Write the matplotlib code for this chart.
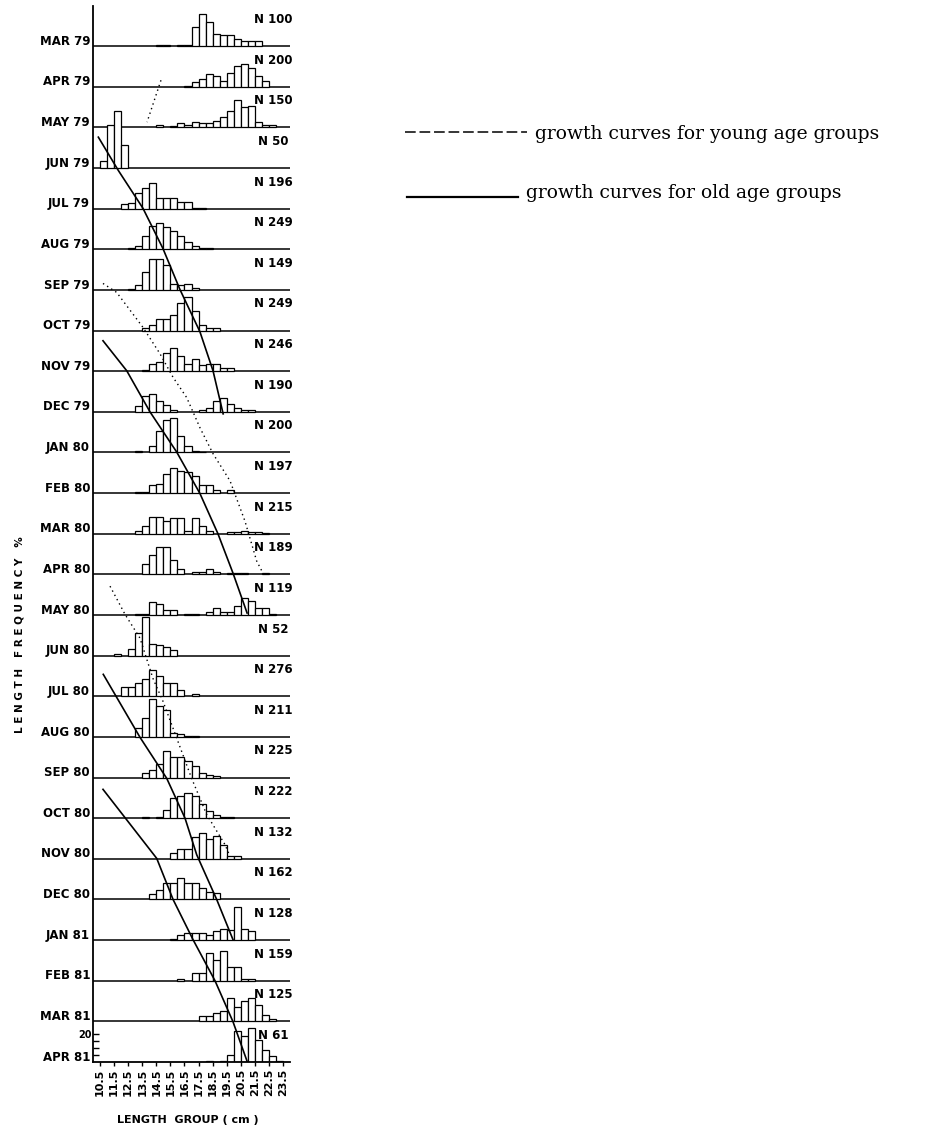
import numpy as np
import matplotlib
matplotlib.use('Agg')
import matplotlib.pyplot as plt
from matplotlib.lines import Line2D

# ---------------- data ----------------
months = ['MAR 79', 'APR 79', 'MAY 79', 'JUN 79', 'JUL 79', 'AUG 79', 'SEP 79',
          'OCT 79', 'NOV 79', 'DEC 79', 'JAN 80', 'FEB 80', 'MAR 80', 'APR 80',
          'MAY 80', 'JUN 80', 'JUL 80', 'AUG 80', 'SEP 80', 'OCT 80', 'NOV 80',
          'DEC 80', 'JAN 81', 'FEB 81', 'MAR 81', 'APR 81']
n_samples = [100, 200, 150, 50, 196, 249, 149, 249, 246, 190, 200, 197, 215,
             189, 119, 52, 276, 211, 225, 222, 132, 162, 128, 159, 125, 61]
# length (cm) of the first 0.5-cm length group listed for each month
bin_starts = [14.5, 16.5, 14.5, 10.5, 12.0, 12.5, 12.5, 13.5, 13.5, 13.0, 13.0,
              13.0, 13.0, 13.5, 13.0, 11.5, 12.0, 13.0, 13.5, 13.5, 15.5, 14.0,
              15.5, 16.0, 17.5, 18.0]
bin_width = 0.5

# length frequency (%) per 0.5 cm group
mar79 = [0.6, 0.6, 0, 0.6, 0.6, 14, 23, 17, 9, 8, 8, 5, 4, 3.5, 3.5]
apr79 = [0.6, 3.4, 5.7, 9, 7.6, 4, 10, 14.8, 16.6, 13.6, 8, 3.8]
may79 = [1.4, 0, 1, 2.9, 1.4, 4, 2.9, 2.9, 4.8, 7.6, 12, 19.5, 14.8, 15.5, 3.6, 1.7, 1.7]
jun79 = [5.2, 30.5, 41, 16.7]
jul79 = [3.1, 4.3, 11.4, 14.5, 18.6, 7.9, 7.4, 7.4, 4.8, 4.8, 0.7, 0.6]
aug79 = [0.7, 2.4, 9.5, 16.7, 19, 16, 13, 9.5, 5.2, 2.4, 0.7, 0.7]
sep79 = [1, 3.6, 12.9, 21.9, 21.9, 17.9, 4.5, 3.6, 4, 1.7]
oct79 = [1.9, 4.3, 8.3, 8.3, 11.4, 19.8, 23.8, 13.8, 4.3, 1.9, 1.9]
nov79 = [1, 5.2, 6.7, 13, 16.7, 10.7, 5.2, 9, 4.3, 4.8, 5.2, 2.4, 2.4]
dec79 = [4.3, 11.4, 12.6, 7.9, 4.8, 1.4, 0, 0, 0, 1.4, 3.1, 7.9, 10.2, 5.5, 2.4, 1, 1]
jan80 = [0.7, 0, 4.8, 15.5, 23.3, 24.5, 11.9, 4.8, 0.7, 0.6]
feb80 = [1, 1, 5.5, 6.7, 13.8, 17.9, 15.5, 15, 11.9, 5.5, 5.5, 1.9, 0, 2.4]
mar80 = [1.9, 5.5, 11.9, 11.9, 9, 11.4, 11.4, 1.9, 11.4, 5.5, 1.9, 0, 0, 1, 1, 2, 1.5, 1, 0.8]
apr80 = [7.6, 14, 19.5, 19.5, 10, 4, 0, 1.7, 1.7, 4, 1.7, 0, 1, 1, 1, 0, 0, 1]
may80 = [0.7, 0.7, 9.3, 7.6, 3.6, 3.6, 0, 1, 1, 0, 2.1, 4.8, 2.1, 2.1, 6.4, 12.4, 10, 5.2, 5.2, 1]
jun80 = [1.4, 0, 4.8, 16.2, 27.6, 8.3, 7.9, 6.2, 4.3]
jul80 = [6.4, 6.4, 9.5, 12.4, 18.6, 14.3, 9.5, 9.5, 4.8, 0, 1.7]
aug80 = [6.6, 13.8, 26.9, 22.1, 19, 3.1, 1.9, 0.7, 0.7]
sep80 = [3.3, 5.2, 10, 18.8, 14.8, 14.8, 11.7, 8.1, 2.9, 2.1, 1]
oct80 = [0.6, 0, 1.2, 6, 14.3, 16, 17.9, 15.5, 10, 5.2, 2.4, 1, 1]
nov80 = [4, 7.1, 7.1, 15.5, 18.3, 14.3, 16, 10.2, 2.1, 2.1]
dec80 = [3.6, 6.7, 12.1, 11.4, 15, 12.1, 11.4, 8.3, 5, 4.3]
jan81 = [0.7, 3.6, 4.8, 4.8, 4.8, 3.6, 6.4, 7.9, 7.1, 23.8, 7.9, 6.4]
feb81 = [1, 0, 5.5, 5.5, 19.8, 15, 21.4, 9.5, 9.5, 1, 1]
mar81 = [3.6, 3.6, 6, 7.1, 16.7, 10, 14.8, 16.7, 11.4, 4.3, 1.9]
apr81 = [1, 0, 0.7, 5.2, 21.9, 18.3, 24.3, 16, 8.8, 4.5, 0.7]

freqs = [mar79, apr79, may79, jun79, jul79, aug79, sep79, oct79, nov79, dec79,
         jan80, feb80, mar80, apr80, may80, jun80, jul80, aug80, sep80, oct80,
         nov80, dec80, jan81, feb81, mar81, apr81]

# x-axis length-group labels
tick_pos = [10.5, 11.5, 12.5, 13.5, 14.5, 15.5, 16.5, 17.5, 18.5, 19.5, 20.5, 21.5, 22.5, 23.5]
tick_labels = ['10.5', '11.5', '12.5', '13.5', '14.5', '15.5', '16.5', '17.5',
               '18.5', '19.5', '20.5', '21.5', '22.5', '23.5']

# growth curves: time in months after MAR 79 and length (cm)
old1_t = [2.24, 3.06, 3.99, 4.98, 5.99, 7.03, 7.99, 9.05]
old1_len = [10.38, 11.80, 13.55, 14.97, 16.18, 17.60, 18.53, 19.25]
old2_t = [7.25, 7.99, 9.0, 9.99, 11.01, 12.0, 12.97, 13.95]
old2_len = [10.71, 12.40, 14.05, 15.95, 17.60, 18.88, 19.95, 20.95]
old3_t = [15.46, 17.01, 18.02, 19.0, 19.9, 21.0, 21.99]
old3_len = [10.73, 13.34, 15.24, 16.54, 17.37, 18.79, 19.95]
old4_t = [18.29, 19.99, 21.0, 21.99, 23.0, 24.01, 25.05]
old4_len = [10.71, 14.53, 15.69, 17.11, 18.67, 19.95, 21.02]

young1_t = [0.84, 1.87]
young1_len = [14.83, 13.84]
young2_t = [5.84, 6.06, 6.92, 7.57, 8.15, 8.65, 9.39, 10.03, 10.7, 11.69, 12.67, 12.97]
young2_len = [10.71, 11.68, 13.55, 14.76, 15.69, 16.66, 17.60, 18.53, 19.74, 20.80, 21.63, 22.08]
young3_t = [13.29, 13.98, 14.57, 15.56, 16.12, 17.03, 18.02, 18.91, 19.65, 19.94]
young3_len = [11.21, 12.27, 13.34, 14.26, 14.97, 15.95, 17.01, 18.08, 19.38, 19.74]

# ---------------- drawing ----------------
W, Hpx = 930, 1134
fig = plt.figure(figsize=(W / 100, Hpx / 100), dpi=100)
ax = fig.add_axes([93 / W, (Hpx - 1062) / Hpx, 197 / W, (1062 - 5.5) / Hpx])

H = 29.0                       # height of one monthly panel, in % units
nm = len(months)
bold = dict(fontweight='bold', family='DejaVu Sans')

for k, (m, f, s, n) in enumerate(zip(months, freqs, bin_starts, n_samples)):
    base = (nm - 1 - k) * H
    if k < nm - 1:
        ax.axhline(base, color='black', lw=1.1, zorder=1)
    f = np.asarray(f, dtype=float)
    x = s + bin_width * np.arange(len(f))
    keep = f > 0
    ax.bar(x[keep], f[keep], width=bin_width, bottom=base, align='edge',
           facecolor='white', edgecolor='black', linewidth=0.9, zorder=2)
    ax.text(-0.015, base + 3.5, m, transform=ax.get_yaxis_transform(),
            ha='right', va='center', fontsize=8.5, **bold)
    ax.text(22.8, base + 19, f'N {n}', ha='center', va='center',
            fontsize=8.5, **bold)

for tt, ll in [(old1_t, old1_len), (old2_t, old2_len), (old3_t, old3_len), (old4_t, old4_len)]:
    ax.plot(ll, (nm - 1 - np.asarray(tt)) * H, color='black', lw=1.2, zorder=3)
for tt, ll in [(young1_t, young1_len), (young2_t, young2_len), (young3_t, young3_len)]:
    ax.plot(ll, (nm - 1 - np.asarray(tt)) * H, color='black', lw=1.0,
            linestyle=(0, (1, 2.5)), zorder=3)

ax.set_xlim(10, 24)
ax.set_ylim(0, nm * H)
for side in ['top', 'right']:
    ax.spines[side].set_visible(False)
ax.spines['left'].set_linewidth(1.3)
ax.spines['bottom'].set_linewidth(1.3)

ax.set_xticks(tick_pos)
ax.set_xticklabels(tick_labels, rotation=90, fontsize=8, **bold)
ax.tick_params(axis='x', direction='out', length=3, width=1, pad=2)

ax.set_yticks([])
ax.set_yticks([5, 10, 15, 20], minor=True)
ax.set_yticklabels(['', '', '', '20'], minor=True, fontsize=7, **bold)
ax.tick_params(axis='y', which='minor', direction='in', length=4, width=1, pad=1)

fig.text(20 / W, 1 - 635 / Hpx, 'L E N G T H   F R E Q U E N C Y   %',
         rotation=90, ha='center', va='center', fontsize=7.5, **bold)
fig.text(188 / W, 1 - 1120 / Hpx, 'LENGTH  GROUP ( cm )', ha='center',
         va='center', fontsize=8, **bold)

# legend
fig.add_artist(Line2D([405 / W, 527 / W], [1 - 132 / Hpx] * 2,
                      transform=fig.transFigure, color='black', lw=1.1,
                      linestyle=(0, (7, 2.5))))
fig.text(535 / W, 1 - 139 / Hpx, 'growth curves for young age groups',
         family='DejaVu Serif', fontsize=13.5, va='baseline', ha='left')
fig.add_artist(Line2D([407 / W, 518 / W], [1 - 197 / Hpx] * 2,
                      transform=fig.transFigure, color='black', lw=1.6))
fig.text(526 / W, 1 - 198 / Hpx, 'growth curves for old age groups',
         family='DejaVu Serif', fontsize=13.5, va='baseline', ha='left')

fig.savefig('out.png', dpi=100, facecolor='white')
